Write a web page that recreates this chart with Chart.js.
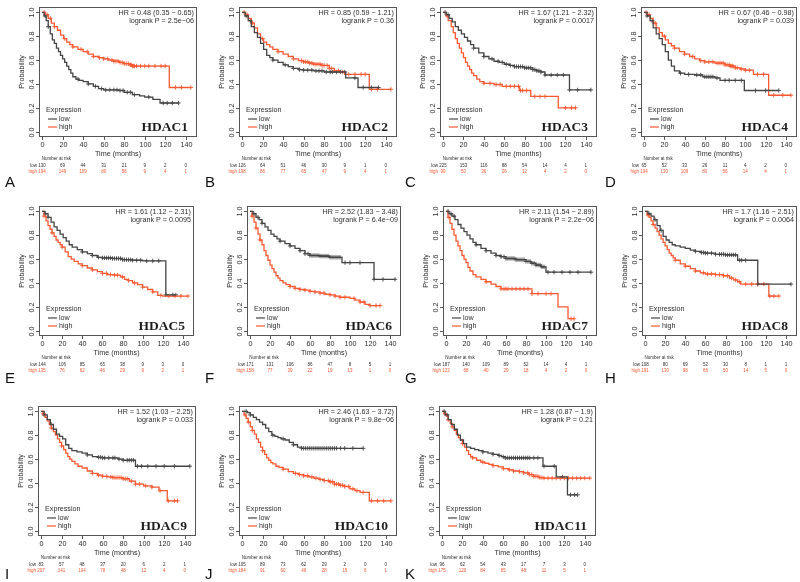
<!DOCTYPE html>
<html>
<head>
<meta charset="utf-8">
<script src="https://cdn.jsdelivr.net/npm/chart.js@4.4.1/dist/chart.umd.min.js"></script>
<style>
  html, body { margin: 0; padding: 0; background: #fff; }
  #fig { position: relative; width: 800px; height: 582px; overflow: hidden; }
  #fig canvas { position: absolute; }
</style>
</head>
<body>
<div id="fig"></div>
<script>
// ---- data ----
const genes = ["HDAC1", "HDAC2", "HDAC3", "HDAC4", "HDAC5", "HDAC6", "HDAC7", "HDAC8", "HDAC9", "HDAC10", "HDAC11"];
const letters = ["A", "B", "C", "D", "E", "F", "G", "H", "I", "J", "K"];
const hrText = [
  "HR = 0.48 (0.35 \u2212 0.65)", "HR = 0.85 (0.59 \u2212 1.21)", "HR = 1.67 (1.21 \u2212 2.32)",
  "HR = 0.67 (0.46 \u2212 0.98)", "HR = 1.61 (1.12 \u2212 2.31)", "HR = 2.52 (1.83 \u2212 3.48)",
  "HR = 2.11 (1.54 \u2212 2.89)", "HR = 1.7 (1.16 \u2212 2.51)", "HR = 1.52 (1.03 \u2212 2.25)",
  "HR = 2.46 (1.63 \u2212 3.72)", "HR = 1.28 (0.87 \u2212 1.9)"
];
const pText = [
  "logrank P = 2.5e\u221206", "logrank P = 0.36", "logrank P = 0.0017", "logrank P = 0.039",
  "logrank P = 0.0095", "logrank P = 6.4e\u221209", "logrank P = 2.2e\u221206", "logrank P = 0.0064",
  "logrank P = 0.033", "logrank P = 9.8e\u221206", "logrank P = 0.21"
];
const xTicks = [0, 20, 40, 60, 80, 100, 120, 140];
const yTicks = [0, 0.2, 0.4, 0.6, 0.8, 1.0];
const riskLow = [
  [130, 69, 44, 31, 21, 9, 2, 0], [126, 64, 51, 46, 30, 9, 1, 0], [225, 153, 116, 88, 54, 14, 4, 1],
  [65, 52, 33, 26, 11, 4, 2, 0], [144, 106, 85, 65, 38, 9, 3, 0], [171, 131, 106, 86, 47, 8, 5, 1],
  [187, 140, 109, 89, 52, 14, 4, 1], [108, 80, 69, 52, 30, 8, 1, 1], [83, 57, 48, 37, 20, 6, 2, 1],
  [105, 89, 73, 62, 29, 2, 0, 0], [96, 62, 54, 43, 17, 7, 3, 0]
];
const riskHigh = [
  [194, 149, 109, 80, 56, 9, 4, 1], [198, 86, 77, 65, 47, 9, 4, 1], [99, 50, 36, 26, 12, 4, 2, 0],
  [194, 130, 109, 80, 56, 14, 4, 1], [135, 76, 62, 46, 29, 9, 2, 1], [158, 77, 39, 22, 19, 13, 1, 0],
  [123, 68, 40, 29, 18, 4, 2, 0], [191, 130, 98, 66, 50, 14, 5, 0], [207, 141, 104, 78, 48, 12, 4, 0],
  [184, 91, 60, 46, 28, 15, 6, 1], [175, 120, 84, 65, 48, 11, 5, 1]
];

// survival steps [months, probability]
const hdac1Low = [[0,1],[2,0.97],[4,0.93],[6,0.88],[8,0.82],[10,0.77],[12,0.74],[14,0.7],[16,0.67],[18,0.64],[20,0.61],[22,0.58],[24,0.55],[26,0.52],[28,0.49],[30,0.46],[33,0.44],[36,0.43],[40,0.42],[45,0.4],[50,0.38],[55,0.36],[60,0.35],[75,0.345],[80,0.33],[88,0.31],[95,0.3],[100,0.29],[108,0.27],[115,0.24],[133,0.24]];
const hdac1High = [[0,1],[3,0.98],[6,0.95],[9,0.91],[12,0.88],[15,0.85],[18,0.81],[21,0.78],[24,0.75],[27,0.73],[30,0.71],[35,0.69],[40,0.67],[45,0.65],[50,0.63],[55,0.62],[60,0.61],[65,0.6],[70,0.59],[75,0.58],[80,0.57],[85,0.56],[88,0.55],[124,0.37],[145,0.37]];
const hdac2Low = [[0,1],[3,0.97],[6,0.93],[9,0.88],[12,0.83],[15,0.79],[18,0.74],[21,0.69],[24,0.64],[27,0.62],[30,0.6],[35,0.58],[40,0.56],[45,0.545],[50,0.53],[55,0.52],[60,0.515],[70,0.51],[80,0.5],[90,0.5],[101,0.45],[113,0.37],[133,0.37]];
const hdac2High = [[0,1],[3,0.98],[6,0.95],[9,0.91],[12,0.87],[15,0.82],[18,0.78],[21,0.75],[24,0.73],[27,0.71],[30,0.69],[35,0.67],[40,0.65],[45,0.63],[50,0.61],[55,0.595],[60,0.585],[65,0.575],[70,0.565],[78,0.555],[85,0.53],[90,0.51],[95,0.5],[100,0.48],[124,0.355],[145,0.355]];
const hdac3Low = [[0,1],[3,0.98],[6,0.95],[9,0.92],[12,0.88],[15,0.85],[18,0.82],[21,0.79],[24,0.76],[27,0.73],[30,0.7],[35,0.66],[40,0.63],[45,0.61],[50,0.59],[55,0.58],[60,0.565],[65,0.555],[70,0.545],[80,0.535],[88,0.52],[92,0.51],[96,0.5],[100,0.475],[124,0.35],[145,0.35]];
const hdac3High = [[0,1],[3,0.97],[5,0.93],[8,0.88],[10,0.83],[12,0.78],[14,0.74],[16,0.7],[18,0.66],[20,0.62],[22,0.58],[24,0.55],[26,0.52],[28,0.49],[30,0.47],[33,0.44],[36,0.42],[40,0.405],[50,0.395],[58,0.38],[75,0.345],[86,0.295],[113,0.2],[130,0.2]];
const hdac4Low = [[0,1],[3,0.97],[6,0.93],[9,0.87],[12,0.82],[15,0.78],[18,0.73],[21,0.67],[24,0.6],[27,0.55],[30,0.51],[35,0.49],[40,0.48],[50,0.475],[58,0.46],[70,0.45],[75,0.43],[99,0.345],[133,0.345]];
const hdac4High = [[0,1],[3,0.98],[6,0.95],[9,0.91],[12,0.87],[15,0.83],[18,0.8],[21,0.77],[24,0.74],[27,0.72],[30,0.7],[35,0.67],[40,0.65],[45,0.63],[50,0.61],[55,0.595],[60,0.585],[70,0.575],[80,0.56],[85,0.55],[90,0.535],[95,0.525],[100,0.515],[108,0.48],[123,0.305],[145,0.305]];
const hdac5Low = [[0,1],[3,0.98],[6,0.95],[9,0.91],[12,0.87],[15,0.84],[18,0.81],[21,0.78],[24,0.75],[27,0.72],[30,0.7],[35,0.68],[40,0.66],[45,0.645],[50,0.63],[55,0.615],[60,0.61],[70,0.605],[80,0.595],[90,0.59],[100,0.585],[123,0.3],[133,0.3]];
const hdac5High = [[0,1],[2,0.96],[4,0.92],[6,0.88],[8,0.85],[10,0.82],[12,0.79],[14,0.76],[16,0.74],[18,0.72],[20,0.7],[23,0.66],[26,0.62],[29,0.6],[32,0.58],[36,0.56],[40,0.545],[45,0.525],[50,0.51],[55,0.495],[60,0.48],[65,0.47],[72,0.465],[78,0.45],[82,0.43],[86,0.42],[90,0.4],[95,0.385],[100,0.365],[105,0.345],[110,0.325],[115,0.295],[120,0.29],[145,0.29]];
const hdac6Low = [[0,1],[3,0.98],[6,0.95],[9,0.93],[12,0.9],[15,0.87],[18,0.84],[21,0.81],[24,0.79],[27,0.77],[30,0.75],[35,0.73],[40,0.71],[45,0.69],[50,0.67],[55,0.645],[60,0.63],[70,0.625],[80,0.615],[92,0.57],[124,0.43],[145,0.43]];
const hdac6High = [[0,1],[2,0.96],[4,0.91],[6,0.86],[8,0.81],[10,0.76],[12,0.72],[14,0.67],[16,0.63],[18,0.59],[20,0.55],[22,0.52],[24,0.49],[26,0.46],[28,0.44],[30,0.42],[33,0.4],[36,0.385],[40,0.37],[45,0.355],[50,0.345],[55,0.34],[60,0.33],[65,0.325],[70,0.315],[75,0.305],[80,0.3],[85,0.29],[90,0.28],[100,0.27],[105,0.255],[110,0.24],[115,0.22],[120,0.21],[130,0.21]];
const hdac7Low = [[0,1],[3,0.98],[6,0.96],[9,0.93],[12,0.89],[15,0.86],[18,0.83],[21,0.8],[24,0.77],[27,0.74],[30,0.72],[35,0.69],[40,0.67],[45,0.65],[50,0.63],[55,0.62],[60,0.605],[70,0.595],[80,0.58],[85,0.565],[90,0.55],[95,0.535],[100,0.49],[145,0.49]];
const hdac7High = [[0,1],[2,0.95],[4,0.9],[6,0.85],[8,0.8],[10,0.75],[12,0.71],[14,0.67],[16,0.63],[18,0.6],[20,0.57],[22,0.53],[24,0.5],[27,0.47],[30,0.45],[35,0.43],[40,0.41],[45,0.39],[50,0.37],[55,0.35],[86,0.31],[112,0.2],[122,0.1],[128,0.1]];
const hdac8Low = [[0,1],[3,0.98],[6,0.96],[9,0.93],[12,0.88],[15,0.84],[18,0.79],[21,0.76],[24,0.74],[27,0.72],[30,0.71],[35,0.7],[40,0.69],[45,0.675],[50,0.665],[55,0.655],[60,0.65],[70,0.64],[80,0.635],[92,0.59],[112,0.39],[145,0.39]];
const hdac8High = [[0,1],[2,0.97],[4,0.95],[6,0.92],[8,0.89],[10,0.86],[12,0.83],[14,0.8],[16,0.77],[18,0.74],[20,0.71],[22,0.68],[24,0.65],[26,0.63],[28,0.61],[30,0.59],[35,0.56],[40,0.54],[45,0.52],[50,0.5],[55,0.485],[60,0.475],[70,0.47],[78,0.46],[84,0.44],[88,0.425],[92,0.41],[95,0.39],[123,0.29],[133,0.29]];
const hdac9Low = [[0,1],[3,0.97],[6,0.93],[9,0.89],[12,0.85],[15,0.81],[18,0.79],[21,0.77],[24,0.72],[27,0.69],[30,0.67],[35,0.66],[40,0.65],[45,0.635],[50,0.62],[55,0.615],[60,0.61],[75,0.6],[80,0.59],[92,0.54],[145,0.54]];
const hdac9High = [[0,1],[2,0.98],[4,0.95],[6,0.92],[8,0.89],[10,0.86],[12,0.83],[14,0.8],[16,0.77],[18,0.74],[20,0.71],[22,0.68],[24,0.65],[26,0.62],[28,0.6],[30,0.58],[33,0.56],[36,0.54],[40,0.525],[45,0.5],[50,0.48],[55,0.465],[60,0.455],[65,0.45],[70,0.445],[80,0.435],[86,0.415],[92,0.39],[100,0.375],[108,0.365],[115,0.335],[123,0.25],[133,0.25]];
const hdac10Low = [[0,1],[5,0.99],[8,0.97],[11,0.95],[14,0.93],[17,0.91],[20,0.89],[23,0.86],[26,0.83],[29,0.8],[32,0.79],[35,0.78],[38,0.77],[42,0.76],[46,0.74],[50,0.72],[54,0.7],[58,0.69],[118,0.69]];
const hdac10High = [[0,1],[2,0.97],[4,0.94],[6,0.91],[8,0.87],[10,0.84],[12,0.81],[14,0.77],[16,0.74],[18,0.7],[20,0.67],[22,0.64],[24,0.61],[26,0.59],[28,0.57],[30,0.56],[33,0.54],[36,0.53],[40,0.515],[45,0.495],[50,0.48],[55,0.47],[60,0.46],[65,0.45],[70,0.44],[75,0.43],[80,0.42],[85,0.41],[90,0.39],[95,0.38],[100,0.37],[105,0.35],[110,0.335],[115,0.32],[124,0.25],[145,0.25]];
const hdac11Low = [[0,1],[3,0.97],[6,0.93],[9,0.89],[12,0.85],[15,0.8],[18,0.76],[21,0.73],[24,0.7],[28,0.69],[32,0.68],[36,0.67],[40,0.66],[45,0.65],[50,0.64],[55,0.63],[58,0.62],[62,0.61],[99,0.54],[112,0.45],[123,0.3],[133,0.3]];
const hdac11High = [[0,1],[2,0.98],[4,0.96],[6,0.93],[8,0.9],[10,0.87],[12,0.84],[14,0.81],[16,0.78],[18,0.76],[20,0.73],[22,0.7],[24,0.67],[26,0.64],[28,0.62],[30,0.61],[34,0.59],[38,0.575],[42,0.565],[46,0.555],[50,0.545],[55,0.535],[60,0.52],[65,0.51],[70,0.5],[75,0.495],[80,0.485],[85,0.47],[90,0.455],[95,0.445],[100,0.44],[145,0.44]];

// censoring times (months)
const hdac1LowCens = [3,6,35,45,52,58,62,66,70,73,76,79,83,86,90,104,118,122,127,133];
const hdac1HighCens = [2,5,8,12,22,30,38,44,50,56,60,64,68,70,72,74,76,78,80,82,84,86,87,88,89,90,92,96,100,104,110,116,120,130,136,145];
const hdac2LowCens = [4,8,30,42,50,56,60,64,68,72,75,78,82,86,88,92,96,100,110,118,126,133];
const hdac2HighCens = [2,5,10,20,35,50,58,60,62,64,66,68,70,72,74,76,78,80,83,85,87,90,94,98,104,110,116,120,126,132,145];
const hdac3LowCens = [2,5,30,40,48,54,58,62,66,70,72,74,76,78,80,82,84,86,88,90,92,94,96,100,106,112,118,124,132,145];
const hdac3HighCens = [4,40,46,52,56,62,66,70,74,76,78,82,90,95,100,120,126,130];
const hdac4LowCens = [3,8,36,44,52,56,60,62,64,66,68,72,80,84,90,96,110,120,133];
const hdac4HighCens = [2,5,11,20,30,40,48,56,60,64,68,72,74,76,78,80,82,84,85,86,87,88,90,92,96,100,104,112,118,128,137,145];
const hdac5LowCens = [3,6,40,50,56,60,62,64,66,68,70,72,74,76,78,80,82,84,86,88,90,94,98,104,110,116,123,130,133];
const hdac5HighCens = [2,10,20,40,50,60,64,68,72,75,80,86,92,100,110,118,126,132,138,145];
const hdac6LowCens = [4,8,12,30,40,50,55,58,60,62,64,66,68,70,72,74,76,78,80,82,84,86,88,90,95,100,110,124,133,145];
const hdac6HighCens = [2,6,10,40,45,50,55,60,65,70,74,80,85,90,95,104,110,114,120,126,130];
const hdac7LowCens = [2,5,8,30,40,50,55,58,60,62,64,66,68,70,72,74,76,78,80,82,84,86,88,90,92,94,96,98,102,108,116,124,132,145];
const hdac7HighCens = [3,40,55,58,60,62,66,70,74,78,82,86,92,100,105,125,128];
const hdac8LowCens = [4,10,16,50,56,58,60,62,66,70,74,76,78,80,82,84,86,88,90,94,96,100,112,145];
const hdac8HighCens = [3,8,30,40,50,58,62,66,70,74,78,82,86,90,94,100,106,112,118,124,128,133];
const hdac9LowCens = [3,10,45,56,58,60,62,66,70,72,76,80,84,86,88,90,94,98,104,112,120,130,145];
const hdac9HighCens = [2,10,20,50,56,60,64,68,70,72,74,76,78,80,82,84,88,92,96,102,108,116,124,130,133];
const hdac10LowCens = [4,8,30,40,50,58,60,62,64,66,68,70,72,74,76,78,80,82,84,86,88,90,92,96,100,108,118];
const hdac10HighCens = [3,6,10,20,40,52,56,60,64,68,72,76,80,84,86,88,90,92,94,96,98,100,104,108,112,118,126,132,138,145];
const hdac11LowCens = [2,5,40,50,56,60,62,64,66,68,70,72,74,76,78,80,82,84,86,90,94,100,110,118,126,130,133];
const hdac11HighCens = [3,6,10,20,30,40,50,60,66,70,76,80,84,86,88,90,92,94,96,98,100,104,108,112,116,120,124,128,132,136,140,145];

const lowCurves = [hdac1Low, hdac2Low, hdac3Low, hdac4Low, hdac5Low, hdac6Low, hdac7Low, hdac8Low, hdac9Low, hdac10Low, hdac11Low];
const highCurves = [hdac1High, hdac2High, hdac3High, hdac4High, hdac5High, hdac6High, hdac7High, hdac8High, hdac9High, hdac10High, hdac11High];
const lowCens = [hdac1LowCens, hdac2LowCens, hdac3LowCens, hdac4LowCens, hdac5LowCens, hdac6LowCens, hdac7LowCens, hdac8LowCens, hdac9LowCens, hdac10LowCens, hdac11LowCens];
const highCens = [hdac1HighCens, hdac2HighCens, hdac3HighCens, hdac4HighCens, hdac5HighCens, hdac6HighCens, hdac7HighCens, hdac8HighCens, hdac9HighCens, hdac10HighCens, hdac11HighCens];

// ---- layout ----
const LOW_COLOR = '#444444';
const HIGH_COLOR = '#f75a33';
const INK = '#2e2e2e';
const SANS = '"Liberation Sans", Arial, sans-serif';
const SERIF = '"Liberation Serif", "Times New Roman", serif';

// plot box [left, right] of each panel, and [top, bottom, letterY] of each row
const boxX = [[39,197],[239,397],[440,597],[641,797],[39,194],[247,401],[443,597],[642,797],[38,196],[239,397],[439,596]];
const rowBox = [[7,137,183],[206,336,379],[406,536,575]];
const rowTop = [0, 196, 392];
const rowHeight = [196, 196, 190];

function stepValue(curve, t) {
  let s = 1;
  curve.forEach(([ct, cs]) => { if (ct <= t) s = cs; });
  return s;
}

const kmDecor = {
  id: 'kmDecor',
  afterDraw(chart, args, opts) {
    const i = opts.panel;
    const row = Math.floor(i / 4);
    const ctx = chart.ctx, ca = chart.chartArea;
    const xs = chart.scales.x, ys = chart.scales.y;
    const canvasTop = rowTop[row];
    ctx.save();

    // box
    ctx.strokeStyle = '#555';
    ctx.lineWidth = 1;
    ctx.strokeRect(Math.round(ca.left) + 0.5, Math.round(ca.top) + 0.5,
      Math.round(ca.right - ca.left) - 1, Math.round(ca.bottom - ca.top) - 1);

    ctx.fillStyle = INK;
    ctx.font = '7.2px ' + SANS;

    // x axis
    ctx.textAlign = 'center';
    ctx.textBaseline = 'middle';
    xTicks.forEach(t => {
      const px = Math.round(xs.getPixelForValue(t)) + 0.5;
      ctx.beginPath();
      ctx.moveTo(px, ca.bottom);
      ctx.lineTo(px, ca.bottom + 3);
      ctx.stroke();
      ctx.fillText(String(t), px, ca.bottom + 8);
    });
    ctx.fillText('Time (months)', (ca.left + ca.right) / 2, ca.bottom + 17);

    // y axis, labels turned like in R
    yTicks.forEach(v => {
      const py = Math.round(ys.getPixelForValue(v)) + 0.5;
      ctx.beginPath();
      ctx.moveTo(ca.left, py);
      ctx.lineTo(ca.left - 3, py);
      ctx.stroke();
      ctx.save();
      ctx.translate(ca.left - 7, py);
      ctx.rotate(-Math.PI / 2);
      ctx.fillText(v.toFixed(1), 0, 0);
      ctx.restore();
    });
    ctx.save();
    ctx.translate(ca.left - 17, (ys.getPixelForValue(0) + ys.getPixelForValue(1)) / 2);
    ctx.rotate(-Math.PI / 2);
    ctx.fillText('Probability', 0, 0);
    ctx.restore();

    // HR and p value
    ctx.textAlign = 'right';
    ctx.fillText(hrText[i], ca.right - 3, ca.top + 6);
    ctx.fillText(pText[i], ca.right - 3, ca.top + 14);

    // legend
    ctx.textAlign = 'left';
    ctx.fillText('Expression', ca.left + 7, ca.bottom - 27);
    [[LOW_COLOR, 'low', 18], [HIGH_COLOR, 'high', 10]].forEach(([c, label, dy]) => {
      ctx.strokeStyle = c;
      ctx.lineWidth = 1.2;
      ctx.beginPath();
      ctx.moveTo(ca.left + 9, ca.bottom - dy);
      ctx.lineTo(ca.left + 18, ca.bottom - dy);
      ctx.stroke();
      ctx.fillStyle = INK;
      ctx.fillText(label, ca.left + 20, ca.bottom - dy);
    });

    // gene name
    ctx.font = 'bold 13.5px ' + SERIF;
    ctx.textAlign = 'right';
    ctx.textBaseline = 'alphabetic';
    ctx.fillStyle = '#1e1e1e';
    ctx.fillText(genes[i], ca.right - 9, ca.bottom - 6);

    // number at risk
    ctx.font = '4.5px ' + SANS;
    ctx.textBaseline = 'middle';
    ctx.textAlign = 'center';
    ctx.fillStyle = INK;
    ctx.fillText('Number at risk', xs.getPixelForValue(14), ca.bottom + 22);
    ctx.textAlign = 'right';
    ctx.fillText('low', xs.getPixelForValue(0) - 5, ca.bottom + 29);
    ctx.fillStyle = HIGH_COLOR;
    ctx.fillText('high', xs.getPixelForValue(0) - 5, ca.bottom + 35);
    ctx.textAlign = 'center';
    xTicks.forEach((t, k) => {
      const px = xs.getPixelForValue(t);
      ctx.fillStyle = INK;
      ctx.fillText(String(riskLow[i][k]), px, ca.bottom + 29);
      ctx.fillStyle = HIGH_COLOR;
      ctx.fillText(String(riskHigh[i][k]), px, ca.bottom + 35);
    });

    // panel letter
    ctx.font = '15px ' + SANS;
    ctx.fillStyle = '#111';
    ctx.textAlign = 'left';
    ctx.fillText(letters[i], 5, rowBox[row][2] - canvasTop);

    ctx.restore();
  }
};

const fig = document.getElementById('fig');

function makePanel(i) {
  const col = i % 4, row = Math.floor(i / 4);
  const left = col * 200, top = rowTop[row];
  const w = 206, h = rowHeight[row];
  const cvs = document.createElement('canvas');
  cvs.width = w;
  cvs.height = h;
  cvs.style.left = left + 'px';
  cvs.style.top = top + 'px';
  fig.appendChild(cvs);

  const [bl, br] = boxX[i];
  const [bt, bb] = rowBox[row];
  const toPts = curve => curve.map(([t, s]) => ({ x: t, y: s }));
  const censPts = (curve, times) => times.map(t => ({ x: t, y: stepValue(curve, t) }));

  new Chart(cvs, {
    type: 'line',
    data: {
      datasets: [
        { data: toPts(lowCurves[i]), stepped: true, borderColor: LOW_COLOR, borderWidth: 1.3, pointRadius: 0, fill: false },
        { data: toPts(highCurves[i]), stepped: true, borderColor: HIGH_COLOR, borderWidth: 1.3, pointRadius: 0, fill: false },
        { type: 'scatter', data: censPts(lowCurves[i], lowCens[i]), pointStyle: 'cross', pointRadius: 2.2,
          borderColor: LOW_COLOR, backgroundColor: LOW_COLOR, pointBorderWidth: 0.9 },
        { type: 'scatter', data: censPts(highCurves[i], highCens[i]), pointStyle: 'cross', pointRadius: 2.2,
          borderColor: HIGH_COLOR, backgroundColor: HIGH_COLOR, pointBorderWidth: 0.9 }
      ]
    },
    options: {
      responsive: false,
      animation: false,
      events: [],
      layout: { padding: { left: bl - left, right: left + w - br, top: bt - top, bottom: top + h - bb } },
      plugins: {
        legend: { display: false },
        tooltip: { enabled: false },
        kmDecor: { panel: i }
      },
      scales: {
        x: { type: 'linear', min: -3, max: 151, display: false },
        y: { type: 'linear', min: -0.045, max: 1.045, display: false }
      }
    },
    plugins: [kmDecor]
  });
}

genes.forEach((g, i) => makePanel(i));
</script>
</body>
</html>
